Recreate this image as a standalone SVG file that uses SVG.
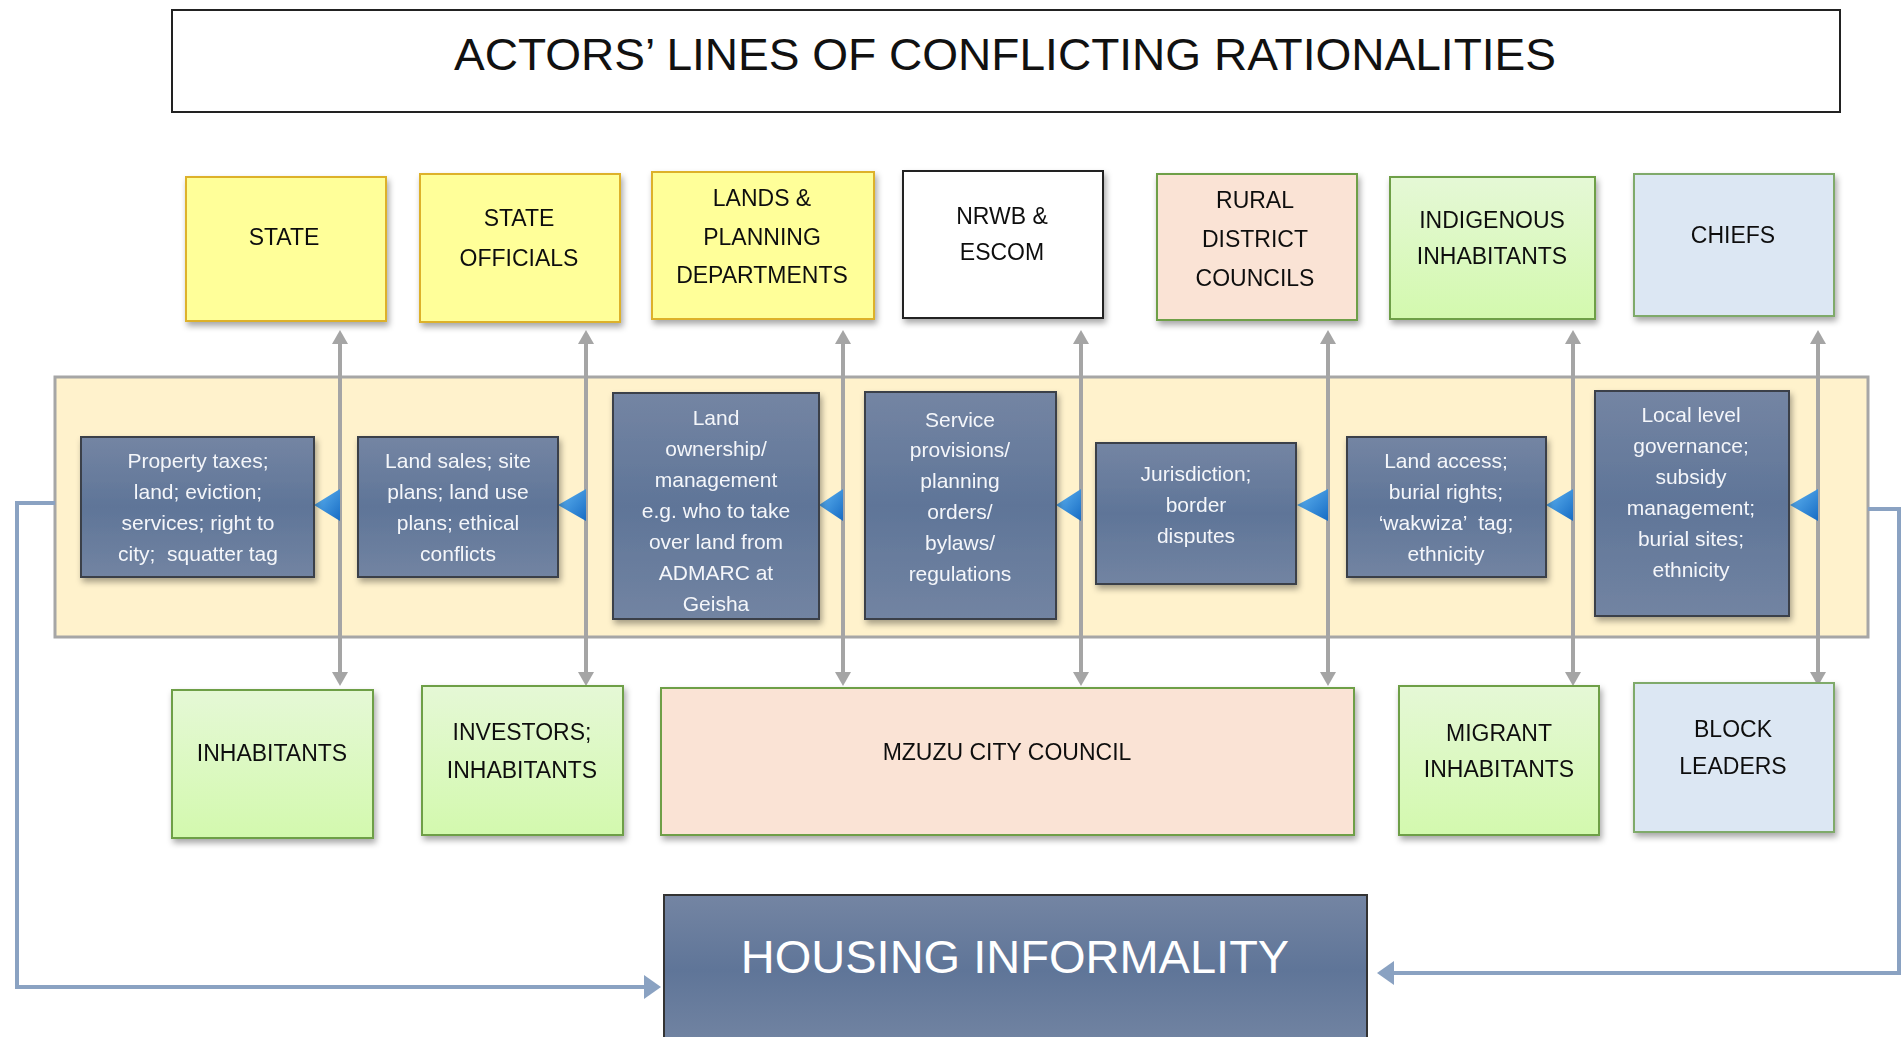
<svg xmlns="http://www.w3.org/2000/svg" width="1903" height="1037" viewBox="0 0 1903 1037">
<defs>
<linearGradient id="gBlue" x1="0" y1="0" x2="0" y2="1"><stop offset="0" stop-color="#7485A3"/><stop offset="0.5" stop-color="#5F7598"/><stop offset="1" stop-color="#7284A2"/></linearGradient>
<linearGradient id="gGreen" x1="0" y1="0" x2="0" y2="1"><stop offset="0" stop-color="#E5F8D6"/><stop offset="1" stop-color="#D3F9AE"/></linearGradient>
<linearGradient id="gTri" x1="0" y1="0" x2="1" y2="1"><stop offset="0" stop-color="#62B6F2"/><stop offset="1" stop-color="#176CC4"/></linearGradient>
<filter id="sh" x="-10%" y="-10%" width="130%" height="130%"><feDropShadow dx="2" dy="4" stdDeviation="3" flood-color="#000" flood-opacity="0.35"/></filter>
<marker id="ga" viewBox="0 0 14 16" refX="0" refY="8" markerWidth="14" markerHeight="16" markerUnits="userSpaceOnUse" orient="auto-start-reverse"><path d="M0,0 L14,8 L0,16 z" fill="#A5A5A5"/></marker>
<marker id="ba" viewBox="0 0 17 24" refX="0" refY="12" markerWidth="17" markerHeight="24" markerUnits="userSpaceOnUse" orient="auto"><path d="M0,0 L17,12 L0,24 z" fill="#8AA2C2"/></marker>
</defs>
<style>
.cap{font-family:"Liberation Sans",Arial,sans-serif;font-size:23px;fill:#111;text-anchor:middle}
.sm{font-family:"Liberation Sans",Arial,sans-serif;font-size:21px;fill:#F4F6FA;text-anchor:middle;white-space:pre}
.yel{fill:#FFFF99;stroke:#DDB12C;stroke-width:2}
.pch{fill:#FAE3D5;stroke:#6E9F47;stroke-width:2}
.grn{fill:url(#gGreen);stroke:#6E9F47;stroke-width:2}
.lbl{fill:#DCE7F3;stroke:#7FAA6A;stroke-width:2}
.wht{fill:#FFFFFF;stroke:#222;stroke-width:2}
.blu{fill:url(#gBlue);stroke:#3A3F48;stroke-width:2}
.tri{fill:url(#gTri)}
.garr{stroke:#A5A5A5;stroke-width:4;fill:none;marker-start:url(#ga);marker-end:url(#ga)}
.barr{stroke:#8AA2C2;stroke-width:4;fill:none;marker-end:url(#ba)}
</style>
<rect width="1903" height="1037" fill="#FFFFFF"/>
<g id="title">
<rect x="172" y="10" width="1668" height="102" fill="#FFFFFF" stroke="#222" stroke-width="2"/>
<text x="1005" y="70" font-family="'Liberation Sans',Arial,sans-serif" font-size="45" fill="#111" text-anchor="middle" textLength="1102" lengthAdjust="spacingAndGlyphs">ACTORS’ LINES OF CONFLICTING RATIONALITIES</text>
</g>
<g id="band">
<rect x="55" y="377" width="1813" height="260" fill="#FFF2CC" stroke="#A6A6A6" stroke-width="3"/>
</g>
<g id="top-state" filter="url(#sh)"><rect class="yel" x="186" y="177" width="200" height="144"/><text class="cap" x="284" y="245">STATE</text></g>
<g id="top-state-officials" filter="url(#sh)"><rect class="yel" x="420" y="174" width="200" height="148"/><text class="cap" x="519" y="226">STATE</text><text class="cap" x="519" y="266">OFFICIALS</text></g>
<g id="top-lands" filter="url(#sh)"><rect class="yel" x="652" y="172" width="222" height="147"/><text class="cap" x="762" y="206">LANDS &amp;</text><text class="cap" x="762" y="245">PLANNING</text><text class="cap" x="762" y="283">DEPARTMENTS</text></g>
<g id="top-nrwb" filter="url(#sh)"><rect class="wht" x="903" y="171" width="200" height="147"/><text class="cap" x="1002" y="224">NRWB &amp;</text><text class="cap" x="1002" y="260">ESCOM</text></g>
<g id="top-rural" filter="url(#sh)"><rect class="pch" x="1157" y="174" width="200" height="146"/><text class="cap" x="1255" y="208">RURAL</text><text class="cap" x="1255" y="247">DISTRICT</text><text class="cap" x="1255" y="286">COUNCILS</text></g>
<g id="top-indigenous" filter="url(#sh)"><rect class="grn" x="1390" y="177" width="205" height="142"/><text class="cap" x="1492" y="228">INDIGENOUS</text><text class="cap" x="1492" y="264">INHABITANTS</text></g>
<g id="top-chiefs" filter="url(#sh)"><rect class="lbl" x="1634" y="174" width="200" height="142"/><text class="cap" x="1733" y="243">CHIEFS</text></g>
<g id="connectors">
<line class="garr" x1="340" y1="344" x2="340" y2="672"/>
<line class="garr" x1="586" y1="344" x2="586" y2="672"/>
<line class="garr" x1="843" y1="344" x2="843" y2="672"/>
<line class="garr" x1="1081" y1="344" x2="1081" y2="672"/>
<line class="garr" x1="1328" y1="344" x2="1328" y2="672"/>
<line class="garr" x1="1573" y1="344" x2="1573" y2="672"/>
<line class="garr" x1="1818" y1="344" x2="1818" y2="672"/>
<polyline class="barr" points="55,503 17,503 17,987 644,987"/>
<polyline class="barr" points="1868,509 1899,509 1899,973 1394,973"/>
<polygon class="tri" points="314,505 340,489 340,521"/>
<polygon class="tri" points="558,505 586,489 586,521"/>
<polygon class="tri" points="819,505 843,489 843,521"/>
<polygon class="tri" points="1056,505 1081,489 1081,521"/>
<polygon class="tri" points="1297,505 1328,489 1328,521"/>
<polygon class="tri" points="1546,505 1573,489 1573,521"/>
<polygon class="tri" points="1790,505 1818,489 1818,521"/>
</g>
<g id="issue-state" filter="url(#sh)"><rect class="blu" x="81" y="437" width="233" height="140"/><text class="sm" x="198" y="468">Property taxes;</text><text class="sm" x="198" y="499">land; eviction;</text><text class="sm" x="198" y="530">services; right to</text><text class="sm" x="198" y="561">city;  squatter tag</text></g>
<g id="issue-officials" filter="url(#sh)"><rect class="blu" x="358" y="437" width="200" height="140"/><text class="sm" x="458" y="468">Land sales; site</text><text class="sm" x="458" y="499">plans; land use</text><text class="sm" x="458" y="530">plans; ethical</text><text class="sm" x="458" y="561">conflicts</text></g>
<g id="issue-lands" filter="url(#sh)"><rect class="blu" x="613" y="393" width="206" height="226"/><text class="sm" x="716" y="425">Land</text><text class="sm" x="716" y="456">ownership/</text><text class="sm" x="716" y="487">management</text><text class="sm" x="716" y="518">e.g. who to take</text><text class="sm" x="716" y="549">over land from</text><text class="sm" x="716" y="580">ADMARC at</text><text class="sm" x="716" y="611">Geisha</text></g>
<g id="issue-nrwb" filter="url(#sh)"><rect class="blu" x="865" y="392" width="191" height="227"/><text class="sm" x="960" y="427">Service</text><text class="sm" x="960" y="457">provisions/</text><text class="sm" x="960" y="488">planning</text><text class="sm" x="960" y="519">orders/</text><text class="sm" x="960" y="550">bylaws/</text><text class="sm" x="960" y="581">regulations</text></g>
<g id="issue-rural" filter="url(#sh)"><rect class="blu" x="1096" y="443" width="200" height="141"/><text class="sm" x="1196" y="481">Jurisdiction;</text><text class="sm" x="1196" y="512">border</text><text class="sm" x="1196" y="543">disputes</text></g>
<g id="issue-indigenous" filter="url(#sh)"><rect class="blu" x="1347" y="437" width="199" height="140"/><text class="sm" x="1446" y="468">Land access;</text><text class="sm" x="1446" y="499">burial rights;</text><text class="sm" x="1446" y="530">‘wakwiza’  tag;</text><text class="sm" x="1446" y="561">ethnicity</text></g>
<g id="issue-chiefs" filter="url(#sh)"><rect class="blu" x="1595" y="391" width="194" height="225"/><text class="sm" x="1691" y="422">Local level</text><text class="sm" x="1691" y="453">governance;</text><text class="sm" x="1691" y="484">subsidy</text><text class="sm" x="1691" y="515">management;</text><text class="sm" x="1691" y="546">burial sites;</text><text class="sm" x="1691" y="577">ethnicity</text></g>
<g id="bot-inhabitants" filter="url(#sh)"><rect class="grn" x="172" y="690" width="201" height="148"/><text class="cap" x="272" y="761">INHABITANTS</text></g>
<g id="bot-investors" filter="url(#sh)"><rect class="grn" x="422" y="686" width="201" height="149"/><text class="cap" x="522" y="740">INVESTORS;</text><text class="cap" x="522" y="778">INHABITANTS</text></g>
<g id="bot-mzuzu" filter="url(#sh)"><rect class="pch" x="661" y="688" width="693" height="147"/><text class="cap" x="1007" y="760">MZUZU CITY COUNCIL</text></g>
<g id="bot-migrant" filter="url(#sh)"><rect class="grn" x="1399" y="686" width="200" height="149"/><text class="cap" x="1499" y="741">MIGRANT</text><text class="cap" x="1499" y="777">INHABITANTS</text></g>
<g id="bot-block" filter="url(#sh)"><rect class="lbl" x="1634" y="683" width="200" height="149"/><text class="cap" x="1733" y="737">BLOCK</text><text class="cap" x="1733" y="774">LEADERS</text></g>
<g id="housing-informality"><rect x="664" y="895" width="703" height="150" fill="url(#gBlue)" stroke="#333" stroke-width="2"/><text x="1015" y="973" font-family="'Liberation Sans',Arial,sans-serif" font-size="47" fill="#FFFFFF" text-anchor="middle">HOUSING INFORMALITY</text></g>
</svg>
